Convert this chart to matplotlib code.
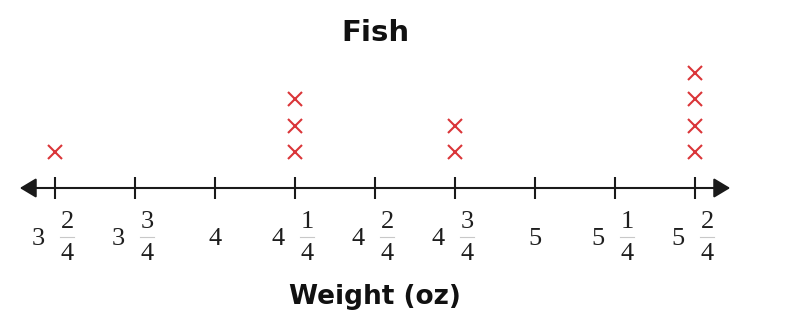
import numpy as np
import matplotlib.pyplot as plt
import matplotlib.transforms as mtransforms

# line plot data: fish weights in ounces
tick_values = [3.5, 3.75, 4.0, 4.25, 4.5, 4.75, 5.0, 5.25, 5.5]
tick_whole = ['3', '3', '4', '4', '4', '4', '5', '5', '5']
tick_num = ['2', '3', '', '1', '2', '3', '', '1', '2']
tick_den = ['4', '4', '', '4', '4', '4', '', '4', '4']
weights = [3.5, 4.25, 4.25, 4.25, 4.75, 4.75, 5.5, 5.5, 5.5, 5.5]

title = 'Fish'
xlabel = 'Weight (oz)'

fig = plt.figure(figsize=(7.9, 3.28), dpi=100)
ax = fig.add_axes([0, 0, 1, 1])
ax.axis('off')

# 320 px per whole ounce, first tick at x=55 px
px_per_unit = 320.0
ax.set_xlim(tick_values[0] - 55 / px_per_unit, tick_values[0] + 735 / px_per_unit)
# one stack step = 26.5 px, axis line 36 px below first X
step = 26.5
y0 = 1 - 36 / step
ax.set_ylim(y0 - 140 / step, y0 + 188 / step)

line_col = '#1a1a1a'
ext = 0.11
ax.annotate('', xy=(tick_values[-1] + ext, y0), xytext=(tick_values[0] - ext, y0),
            arrowprops=dict(arrowstyle='<|-|>,head_length=0.5,head_width=0.3',
                            mutation_scale=20, color=line_col, lw=1.5,
                            shrinkA=0, shrinkB=0))
ax.plot(tick_values, [y0] * len(tick_values), ls='none', marker='|',
        markersize=16, mew=1.5, color=line_col)

# stacked X marks
counts = {}
xs, ys = [], []
for w in weights:
    counts[w] = counts.get(w, 0) + 1
    xs.append(w)
    ys.append(counts[w])
ax.plot(xs, ys, ls='none', marker='x', markersize=10, mew=1.5, color='#da3539')

# tick labels as mixed numbers
serif = 'Liberation Serif'
fs = 19
tc = '#1e1e1e'
for v, w, n, d in zip(tick_values, tick_whole, tick_num, tick_den):
    if n:
        ax.annotate(w, (v, y0), xytext=(-17, -51), textcoords='offset pixels',
                    ha='center', va='center', fontsize=fs, family=serif, color=tc)
        ax.annotate(n, (v, y0), xytext=(12, -34), textcoords='offset pixels',
                    ha='center', va='center', fontsize=fs, family=serif, color=tc)
        ax.annotate(d, (v, y0), xytext=(12, -66), textcoords='offset pixels',
                    ha='center', va='center', fontsize=fs, family=serif, color=tc)
        # faint fraction bar, in inches relative to the tick
        tr = fig.dpi_scale_trans + mtransforms.ScaledTranslation(v, y0, ax.transData)
        ax.plot([0.05, 0.19], [-0.49, -0.49], transform=tr, color='#c8c8c8', lw=0.8)
    else:
        ax.annotate(w, (v, y0), xytext=(0, -51), textcoords='offset pixels',
                    ha='center', va='center', fontsize=fs, family=serif, color=tc)

fig.text(375 / 790, 1 - 33 / 328, title, ha='center', va='center',
         fontsize=21, fontweight='bold', family='DejaVu Sans', color='#111')
fig.text(375 / 790, 1 - 297 / 328, xlabel, ha='center', va='center',
         fontsize=19, fontweight='bold', family='DejaVu Sans', color='#111')

fig.savefig('out.png', dpi=100, facecolor='white')
